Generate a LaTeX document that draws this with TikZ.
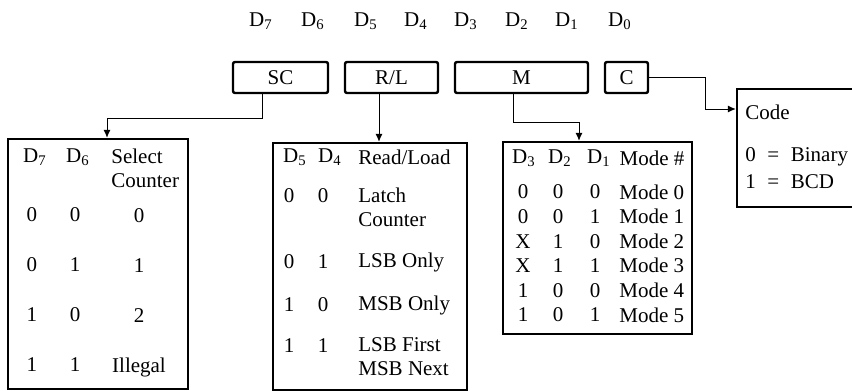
\documentclass[tikz,border=0pt]{standalone}
\usepackage{fontspec}
\setmainfont{Liberation Serif}
\usetikzlibrary{arrows.meta}
\tikzset{
  field/.style={draw, line width=1.2pt, rounded corners=1pt, inner sep=0pt},
  tablebox/.style={draw, line width=1.2pt, inner sep=0pt},
  link/.style={line width=0.5pt, -{Latex[length=4pt,width=3.5pt]}},
  cell/.style={inner sep=0pt, align=center},
  lefttext/.style={anchor=west, align=left, inner sep=0pt},
}
\begin{document}
\begin{tikzpicture}[x=0.5pt, y=-0.5pt, font=\fontsize{10.5}{12}\selectfont]
\useasboundingbox (0,0) rectangle (852,391);
% bit labels
\node (d7) at (261,21) {D\textsubscript{7}};
\node (d6) at (313,21) {D\textsubscript{6}};
\node (d5) at (366,21) {D\textsubscript{5}};
\node (d4) at (416,21) {D\textsubscript{4}};
\node (d3) at (466,21) {D\textsubscript{3}};
\node (d2) at (517,21) {D\textsubscript{2}};
\node (d1) at (567,21) {D\textsubscript{1}};
\node (d0) at (620,21) {D\textsubscript{0}};
% control word fields
\node[field, minimum width=47.5pt, minimum height=15.5pt] (sc) at (280.5,77.5) {SC};
\node[field, minimum width=46.5pt, minimum height=15.5pt] (rl) at (391.5,77.5) {R/L};
\node[field, minimum width=66.5pt, minimum height=15.5pt] (mb) at (521.5,77.5) {M};
\node[field, minimum width=21.5pt, minimum height=15.5pt] (cb) at (626.5,77.5) {C};
% tables
\node[tablebox, minimum width=90pt, minimum height=125pt] (seltab) at (98,264) {};
\node[tablebox, minimum width=97pt, minimum height=123.5pt] (rltab) at (370,266.5) {};
\node[tablebox, minimum width=94.5pt, minimum height=96pt] (modetab) at (597.5,238) {};
\node[tablebox, minimum width=81.5pt, minimum height=59pt] (codetab) at (818.5,148) {};
% select counter
\node (s7) at (35,157) {D\textsubscript{7}};
\node (s6) at (78,157) {D\textsubscript{6}};
\node[lefttext] (shead) at (111,168.5) {Select\\Counter};
\node[cell, font=\fontsize{10.5}{25}\selectfont] (sa) at (32,290) {0\\0\\1\\1};
\node[cell, font=\fontsize{10.5}{25}\selectfont] (sb) at (75,290) {0\\1\\0\\1};
\node[cell, font=\fontsize{10.5}{25}\selectfont] (sname) at (139,293) {0\\1\\2\\Illegal};
% read/load
\node (r5) at (295,157) {D\textsubscript{5}};
\node (r4) at (330,157) {D\textsubscript{4}};
\node[lefttext] (rhead) at (358,157) {Read/Load};
\node (ra0) at (289,196) {0};
\node (rb0) at (323,196) {0};
\node[lefttext] (rt0) at (358,207.5) {Latch\\Counter};
\node (ra1) at (289,262) {0};
\node (rb1) at (323,262) {1};
\node[lefttext] (rt1) at (358,262) {LSB Only};
\node (ra2) at (289,305) {1};
\node (rb2) at (323,305) {0};
\node[lefttext] (rt2) at (358,305) {MSB Only};
\node (ra3) at (289,346) {1};
\node (rb3) at (323,346) {1};
\node[lefttext] (rt3) at (358,357) {LSB First\\MSB Next};
% mode
\node (m3) at (524,158) {D\textsubscript{3}};
\node (m2) at (560,158) {D\textsubscript{2}};
\node (m1) at (599,158) {D\textsubscript{1}};
\node (mhead) at (652,158) {Mode \#};
\node[cell, font=\fontsize{10.5}{12.3}\selectfont] (ma) at (523,253.5) {0\\0\\X\\X\\1\\1};
\node[cell, font=\fontsize{10.5}{12.3}\selectfont] (mbits) at (558,253.5) {0\\0\\1\\1\\0\\0};
\node[cell, font=\fontsize{10.5}{12.3}\selectfont] (mc) at (595,253.5) {0\\1\\0\\1\\0\\1};
\node[lefttext, font=\fontsize{10.5}{12.3}\selectfont] (mnames) at (619,253.5) {Mode 0\\Mode 1\\Mode 2\\Mode 3\\Mode 4\\Mode 5};
% code
\node[lefttext] (chead) at (745,112) {Code};
\node[lefttext] (cbin) at (745,157) {0\hspace{0.55em}=\hspace{0.55em}Binary};
\node[lefttext] (cbcd) at (745,182) {1\hspace{0.55em}=\hspace{0.55em}BCD};
% connectors
\draw[link] (262,0 |- sc.south) |- (107,118) -- (107,0 |- seltab.north);
\draw[link] (379,0 |- rl.south) -- (379,0 |- rltab.north);
\draw[link] (513,0 |- mb.south) |- (579,122) -- (579,0 |- modetab.north);
\draw[link] (cb.east) -| (705,109) -- (codetab.west |- 0,109);
\end{tikzpicture}
\end{document}
